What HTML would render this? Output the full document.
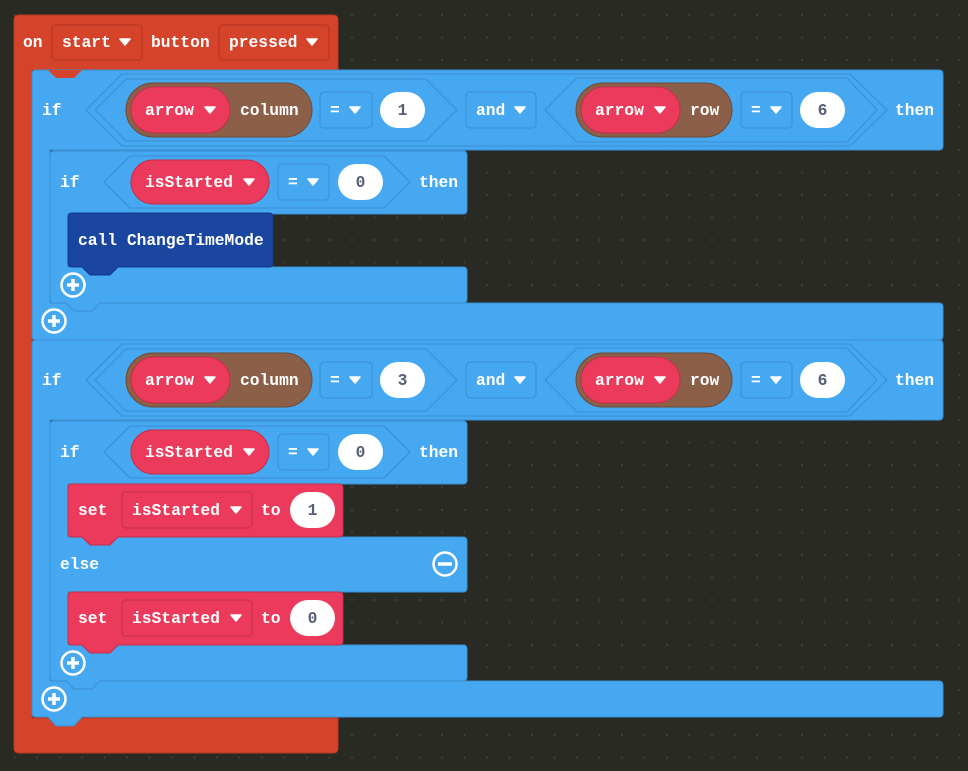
<!DOCTYPE html>
<html><head><meta charset="utf-8"><style>
html,body{margin:0;padding:0;background:#2a2a25;}
svg{display:block}
text{font-family:"Liberation Mono",monospace;font-weight:bold;font-size:16.3px;fill:#fff}
.n{fill:#575e75;text-anchor:middle}
</style></head><body>
<svg width="968" height="771" viewBox="0 0 968 771" xmlns="http://www.w3.org/2000/svg">
<defs>
<pattern id="dots" x="3.5" y="4" width="22.5" height="22.5" patternUnits="userSpaceOnUse">
<circle cx="11" cy="11" r="1" fill="#45453e"/></pattern>
<g id="tri"><path d="M-5,-3 L5,-3 L0,3 Z" fill="#fff" stroke="#fff" stroke-width="1.5" stroke-linejoin="round"/></g>
<g id="plus"><circle r="11.5" fill="none" stroke="#fff" stroke-width="2.5"/><path d="M-6,0 H6 M0,-6 V6" stroke="#fff" stroke-width="3.5"/></g>
</defs>
<rect width="968" height="771" fill="#2a2a25"/>
<rect width="968" height="771" fill="url(#dots)"/>

<!-- red hat -->
<path d="M14,20 q0-5 5-5 H333 q5 0 5 5 V70 H32 V718 H338 V748 q0 5-5 5 H19 q-5 0-5-5 Z" fill="#d5442a" stroke="#b8391f"/>
<text x="23" y="47">on</text>
<rect x="52" y="25" width="90" height="35" rx="4" fill="#d5442a" stroke="#b23420"/>
<text x="62" y="47">start</text><use href="#tri" x="125" y="42"/>
<text x="151" y="47">button</text>
<rect x="219" y="25" width="110" height="35" rx="4" fill="#d5442a" stroke="#b23420"/>
<text x="229" y="47">pressed</text><use href="#tri" x="312" y="42"/>

<!-- IF 1 -->
<path d="M32,74 q0-4 4-4 H939 q4 0 4 4 V146 q0 4-4 4 H50 V303 H939 q4 0 4 4 V336 q0 4-4 4 H36 q-4 0-4-4 Z" fill="#45a8f0" stroke="#3a8ed1"/>
<polygon points="48,70 56,78 74,78 82,70" fill="#d5442a"/>
<text x="42" y="115">if</text>
<polygon points="86,110 122,74 850,74 887,110 850,146 122,146" fill="#45a8f0" stroke="#3a8ed1"/>
<polygon points="95,110 126,79 426,79 457,110 426,141 126,141" fill="#45a8f0" stroke="#3a8ed1"/>
<rect x="126" y="83" width="186" height="54" rx="27" fill="#8c6048" stroke="#6f4b37"/>
<rect x="131" y="87" width="99" height="46" rx="23" fill="#eb3a5b" stroke="#c22f4a"/>
<text x="145" y="115">arrow</text><use href="#tri" x="210" y="110"/>
<text x="240" y="115">column</text>
<rect x="320" y="92" width="52" height="36" rx="4" fill="#45a8f0" stroke="#3a8ed1"/>
<text x="330" y="115">=</text><use href="#tri" x="355" y="110"/>
<rect x="380" y="92" width="45" height="36" rx="18" fill="#fff"/>
<text x="402.5" y="115" class="n">1</text>
<rect x="466" y="92" width="70" height="36" rx="4" fill="#45a8f0" stroke="#3a8ed1"/>
<text x="476" y="115">and</text><use href="#tri" x="520" y="110"/>
<polygon points="545,110 577,78 847,78 877,110 847,142 577,142" fill="#45a8f0" stroke="#3a8ed1"/>
<rect x="576" y="83" width="156" height="54" rx="27" fill="#8c6048" stroke="#6f4b37"/>
<rect x="581" y="87" width="99" height="46" rx="23" fill="#eb3a5b" stroke="#c22f4a"/>
<text x="595" y="115">arrow</text><use href="#tri" x="660" y="110"/>
<text x="690" y="115">row</text>
<rect x="741" y="92" width="51" height="36" rx="4" fill="#45a8f0" stroke="#3a8ed1"/>
<text x="751" y="115">=</text><use href="#tri" x="776" y="110"/>
<rect x="800" y="92" width="45" height="36" rx="18" fill="#fff"/>
<text x="822.5" y="115" class="n">6</text>
<text x="895" y="115">then</text>

<!-- inner if 1 -->
<path d="M50,155 q0-4 4-4 H463 q4 0 4 4 V210 q0 4-4 4 H68 V267 H463 q4 0 4 4 V299 q0 4-4 4 H54 q-4 0-4-4 Z" fill="#45a8f0" stroke="#3a8ed1"/>
<polygon points="66,303 74,311 92,311 100,303" fill="#45a8f0" stroke="#3a8ed1"/>
<rect x="67" y="302" width="32" height="2" fill="#45a8f0"/>
<text x="60" y="187">if</text>
<polygon points="104,182 130,156 384,156 410,182 384,208 130,208" fill="#45a8f0" stroke="#3a8ed1"/>
<rect x="131" y="160" width="138" height="44" rx="22" fill="#eb3a5b" stroke="#c22f4a"/>
<text x="145" y="187">isStarted</text><use href="#tri" x="249" y="182"/>
<rect x="278" y="164" width="51" height="36" rx="4" fill="#45a8f0" stroke="#3a8ed1"/>
<text x="288" y="187">=</text><use href="#tri" x="313" y="182"/>
<rect x="338" y="164" width="45" height="36" rx="18" fill="#fff"/>
<text x="360.5" y="187" class="n">0</text>
<text x="419" y="187">then</text>
<path d="M68,217 q0-4 4-4 H269 q4 0 4 4 V263 q0 4-4 4 H118 L110,275 H90 L82,267 H72 q-4 0-4-4 Z" fill="#1a46a0" stroke="#133a88"/>
<text x="78" y="245">call ChangeTimeMode</text>
<use href="#plus" x="73" y="285"/>
<use href="#plus" x="54" y="321"/>

<!-- IF 2 -->
<path d="M32,344 q0-4 4-4 H939 q4 0 4 4 V416 q0 4-4 4 H50 V681 H939 q4 0 4 4 V713 q0 4-4 4 H36 q-4 0-4-4 Z" fill="#45a8f0" stroke="#3a8ed1"/>
<polygon points="48,717 56,726 74,726 82,717" fill="#45a8f0" stroke="#3a8ed1"/>
<rect x="49" y="716" width="32" height="2" fill="#45a8f0"/>
<text x="42" y="385">if</text>
<polygon points="86,380 122,344 850,344 887,380 850,416 122,416" fill="#45a8f0" stroke="#3a8ed1"/>
<polygon points="95,380 126,349 426,349 457,380 426,411 126,411" fill="#45a8f0" stroke="#3a8ed1"/>
<rect x="126" y="353" width="186" height="54" rx="27" fill="#8c6048" stroke="#6f4b37"/>
<rect x="131" y="357" width="99" height="46" rx="23" fill="#eb3a5b" stroke="#c22f4a"/>
<text x="145" y="385">arrow</text><use href="#tri" x="210" y="380"/>
<text x="240" y="385">column</text>
<rect x="320" y="362" width="52" height="36" rx="4" fill="#45a8f0" stroke="#3a8ed1"/>
<text x="330" y="385">=</text><use href="#tri" x="355" y="380"/>
<rect x="380" y="362" width="45" height="36" rx="18" fill="#fff"/>
<text x="402.5" y="385" class="n">3</text>
<rect x="466" y="362" width="70" height="36" rx="4" fill="#45a8f0" stroke="#3a8ed1"/>
<text x="476" y="385">and</text><use href="#tri" x="520" y="380"/>
<polygon points="545,380 577,348 847,348 877,380 847,412 577,412" fill="#45a8f0" stroke="#3a8ed1"/>
<rect x="576" y="353" width="156" height="54" rx="27" fill="#8c6048" stroke="#6f4b37"/>
<rect x="581" y="357" width="99" height="46" rx="23" fill="#eb3a5b" stroke="#c22f4a"/>
<text x="595" y="385">arrow</text><use href="#tri" x="660" y="380"/>
<text x="690" y="385">row</text>
<rect x="741" y="362" width="51" height="36" rx="4" fill="#45a8f0" stroke="#3a8ed1"/>
<text x="751" y="385">=</text><use href="#tri" x="776" y="380"/>
<rect x="800" y="362" width="45" height="36" rx="18" fill="#fff"/>
<text x="822.5" y="385" class="n">6</text>
<text x="895" y="385">then</text>

<!-- inner if 2 -->
<path d="M50,425 q0-4 4-4 H463 q4 0 4 4 V480 q0 4-4 4 H68 V537 H463 q4 0 4 4 V588 q0 4-4 4 H68 V645 H463 q4 0 4 4 V677 q0 4-4 4 H54 q-4 0-4-4 Z" fill="#45a8f0" stroke="#3a8ed1"/>
<polygon points="66,681 74,689 92,689 100,681" fill="#45a8f0" stroke="#3a8ed1"/>
<rect x="67" y="680" width="32" height="2" fill="#45a8f0"/>
<text x="60" y="457">if</text>
<polygon points="104,452 130,426 384,426 410,452 384,478 130,478" fill="#45a8f0" stroke="#3a8ed1"/>
<rect x="131" y="430" width="138" height="44" rx="22" fill="#eb3a5b" stroke="#c22f4a"/>
<text x="145" y="457">isStarted</text><use href="#tri" x="249" y="452"/>
<rect x="278" y="434" width="51" height="36" rx="4" fill="#45a8f0" stroke="#3a8ed1"/>
<text x="288" y="457">=</text><use href="#tri" x="313" y="452"/>
<rect x="338" y="434" width="45" height="36" rx="18" fill="#fff"/>
<text x="360.5" y="457" class="n">0</text>
<text x="419" y="457">then</text>

<path d="M68,488 q0-4 4-4 H339 q4 0 4 4 V533 q0 4-4 4 H118 L110,545 H90 L82,537 H72 q-4 0-4-4 Z" fill="#eb3a5b" stroke="#c22f4a"/>
<text x="78" y="515">set</text>
<rect x="122" y="492" width="130" height="36" rx="4" fill="#eb3a5b" stroke="#c22f4a"/>
<text x="132" y="515">isStarted</text><use href="#tri" x="236" y="510"/>
<text x="261" y="515">to</text>
<rect x="290" y="492" width="45" height="36" rx="18" fill="#fff"/>
<text x="312.5" y="515" class="n">1</text>

<text x="60" y="569">else</text>
<circle cx="445" cy="564" r="11.5" fill="none" stroke="#fff" stroke-width="2.5"/>
<path d="M438,564 H452" stroke="#fff" stroke-width="3.5"/>

<path d="M68,596 q0-4 4-4 H339 q4 0 4 4 V641 q0 4-4 4 H118 L110,653 H90 L82,645 H72 q-4 0-4-4 Z" fill="#eb3a5b" stroke="#c22f4a"/>
<text x="78" y="623">set</text>
<rect x="122" y="600" width="130" height="36" rx="4" fill="#eb3a5b" stroke="#c22f4a"/>
<text x="132" y="623">isStarted</text><use href="#tri" x="236" y="618"/>
<text x="261" y="623">to</text>
<rect x="290" y="600" width="45" height="36" rx="18" fill="#fff"/>
<text x="312.5" y="623" class="n">0</text>

<use href="#plus" x="73" y="663"/>
<use href="#plus" x="54" y="699"/>
</svg>
</body></html>
